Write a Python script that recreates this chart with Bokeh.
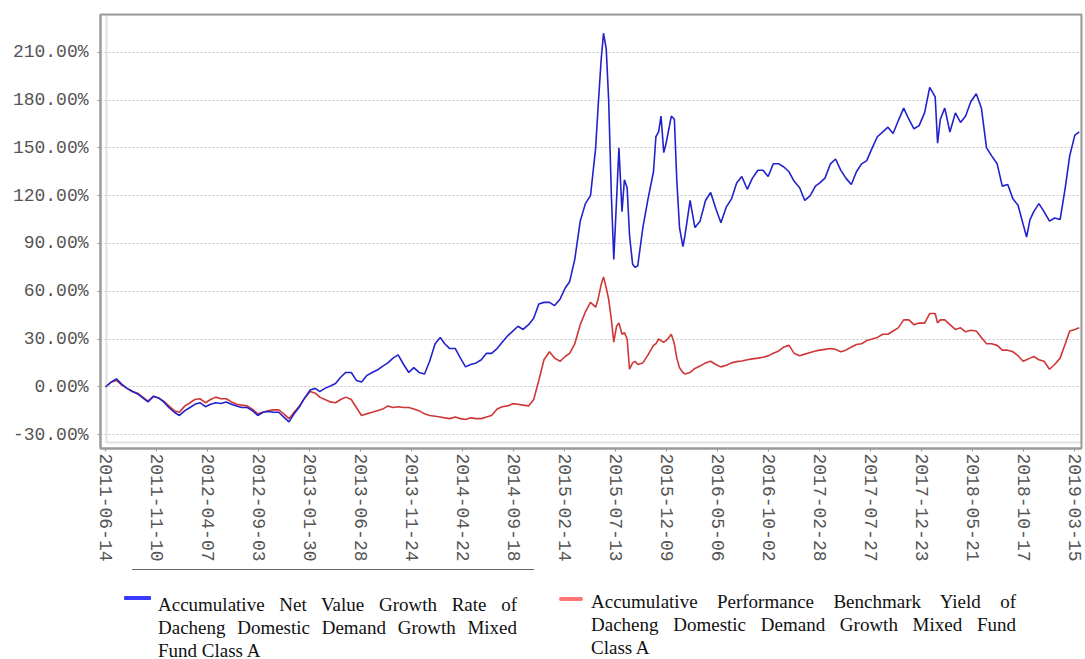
import pandas as pd
from bokeh.plotting import figure
from bokeh.models import (Range1d, FixedTicker, DatetimeTickFormatter,
                          PrintfTickFormatter, BoxAnnotation, Div)
from bokeh.layouts import column
from bokeh.embed import file_html
from bokeh.resources import INLINE

# ---------------- data ----------------
dates = [
    "2011-06-14", "2011-07-01", "2011-07-16", "2011-08-01", "2011-08-16", "2011-09-01", "2011-09-16",
    "2011-10-01", "2011-10-16", "2011-11-01", "2011-11-16", "2011-12-01", "2011-12-16",
    "2012-01-01", "2012-01-16", "2012-02-01", "2012-02-16", "2012-03-01", "2012-03-16",
    "2012-04-01", "2012-04-16", "2012-05-01", "2012-05-16", "2012-06-01", "2012-06-16",
    "2012-07-01", "2012-07-16", "2012-08-01", "2012-08-16", "2012-09-01", "2012-09-16",
    "2012-10-01", "2012-10-16", "2012-11-01", "2012-11-16", "2012-12-01", "2012-12-16",
    "2013-01-01", "2013-01-16", "2013-02-01", "2013-02-16", "2013-03-01", "2013-03-16",
    "2013-04-01", "2013-04-16", "2013-05-01", "2013-05-16", "2013-06-01", "2013-06-16",
    "2013-07-01", "2013-07-16", "2013-08-01", "2013-08-16", "2013-09-01", "2013-09-16",
    "2013-10-01", "2013-10-16", "2013-11-01", "2013-11-16", "2013-12-01", "2013-12-16",
    "2014-01-01", "2014-01-16", "2014-02-01", "2014-02-16", "2014-03-01", "2014-03-16",
    "2014-04-01", "2014-04-16", "2014-05-01", "2014-05-16", "2014-06-01", "2014-06-16",
    "2014-07-01", "2014-07-16", "2014-08-01", "2014-08-16", "2014-09-01", "2014-09-16",
    "2014-10-01", "2014-10-16", "2014-11-01", "2014-11-16", "2014-12-01", "2014-12-16",
    "2015-01-01", "2015-01-16", "2015-02-01", "2015-02-16", "2015-03-01", "2015-03-16",
    "2015-04-01", "2015-04-16", "2015-05-01", "2015-05-16", "2015-05-23", "2015-06-01",
    "2015-06-08", "2015-06-16", "2015-06-23", "2015-07-01", "2015-07-08", "2015-07-16",
    "2015-07-23", "2015-08-01", "2015-08-08", "2015-08-16", "2015-08-23", "2015-09-01",
    "2015-09-08", "2015-09-16", "2015-10-01", "2015-10-16", "2015-11-01", "2015-11-08",
    "2015-11-16", "2015-11-23", "2015-12-01", "2015-12-08", "2015-12-16", "2015-12-23",
    "2016-01-01", "2016-01-08", "2016-01-16", "2016-01-26", "2016-02-01", "2016-02-16",
    "2016-03-01", "2016-03-16", "2016-04-01", "2016-04-16", "2016-05-01", "2016-05-16",
    "2016-06-01", "2016-06-16", "2016-07-01", "2016-07-16", "2016-08-01", "2016-08-16",
    "2016-09-01", "2016-09-16", "2016-10-01", "2016-10-16", "2016-11-01", "2016-11-16",
    "2016-12-01", "2016-12-16",
    "2017-01-01", "2017-01-16", "2017-02-01", "2017-02-16", "2017-03-01", "2017-03-16",
    "2017-04-01", "2017-04-16", "2017-05-01", "2017-05-16", "2017-06-01", "2017-06-16",
    "2017-07-01", "2017-07-16", "2017-08-01", "2017-08-16", "2017-09-01", "2017-09-16",
    "2017-10-01", "2017-10-16", "2017-11-01", "2017-11-16", "2017-12-01", "2017-12-16",
    "2018-01-01", "2018-01-16", "2018-02-01", "2018-02-08", "2018-02-16", "2018-03-01",
    "2018-03-16", "2018-04-01", "2018-04-16", "2018-05-01", "2018-05-16", "2018-06-01",
    "2018-06-16", "2018-07-01", "2018-07-16", "2018-08-01", "2018-08-16", "2018-09-01",
    "2018-09-16", "2018-10-01", "2018-10-16", "2018-10-26", "2018-11-05", "2018-11-16",
    "2018-12-01", "2018-12-16", "2019-01-01", "2019-01-16", "2019-02-01", "2019-02-16",
    "2019-03-01", "2019-03-16", "2019-03-29",
]

fund_growth = [
    0, 3, 5, 1.5, -1, -3, -4.5,
    -7, -9.5, -6, -7, -9.5, -13,
    -16, -18, -15, -13, -11, -10,
    -12.5, -11, -10, -10.5, -9.5, -11,
    -12, -13, -13, -15, -18, -16,
    -15.5, -16, -16, -19, -22, -17,
    -12.5, -7, -2, -1, -3, -1,
    0.5, 2, 6, 9, 9, 4,
    3, 7, 9, 10.5, 13, 15,
    18, 20, 14, 9, 12, 9,
    8, 16, 27, 31, 27, 24,
    24, 18, 12.5, 14, 15, 17,
    21, 21, 24, 28, 32, 35,
    38, 36, 39, 43, 52, 53,
    53, 51, 55, 62, 66, 80,
    104, 115, 120, 150, 175, 205,
    222, 212, 180, 120, 80, 117,
    150, 110, 130, 125, 95, 77,
    75, 76, 100, 118, 135, 157,
    160, 170, 147, 153, 162, 170,
    168, 130, 100, 88, 95, 117,
    100, 104, 117, 122, 112, 103,
    113, 118, 128, 132, 124, 131,
    136, 136, 132, 140, 140, 138,
    135, 129,
    125, 117, 120, 126, 128, 131,
    140, 143, 136, 131, 127, 135,
    140, 142, 150, 157, 160, 163,
    159, 167, 175, 168, 162, 164,
    172, 188, 182, 153, 168, 175,
    160, 172, 166, 170, 179, 184,
    175, 150, 145, 140, 126, 127,
    118, 114, 102, 94, 105, 110,
    115, 110, 104, 106, 105, 125,
    145, 158, 160,
]

benchmark_yield = [
    0, 3, 4, 1, -1, -3, -4,
    -6.5, -9, -6, -7, -9, -12,
    -15, -16, -12, -10, -8, -7.5,
    -10, -8, -6.5, -7.5, -7.5, -9.5,
    -11, -11.5, -12, -14, -17, -16,
    -15, -14.5, -14.5, -17, -20, -16,
    -12, -7, -3, -4, -6.5, -8,
    -9.5, -10, -8, -6.5, -8, -13,
    -18, -17, -16, -15, -14, -12,
    -13, -12.5, -13, -13, -14, -15,
    -17, -18, -18.5, -19, -19.5, -20,
    -19, -20, -20.5, -19.5, -20, -20,
    -19, -18, -14, -12.5, -12, -10.6,
    -11, -11.5, -12, -8, 4, 17,
    22, 18, 16, 19, 21, 27,
    39, 47, 53, 50, 55, 64,
    69, 62, 55, 42, 28, 38,
    40, 33, 34, 30, 11, 15,
    16, 14, 15, 20, 26, 27,
    30, 29, 28, 29, 31, 33,
    27, 18, 12, 9, 8, 9,
    11.5, 13, 15, 16, 14, 12.5,
    13.5, 15, 15.8, 16.2, 17, 17.5,
    18, 18.5, 19.4, 21, 22.5, 25,
    26, 21,
    19.5, 20.5, 21.5, 22.5, 23, 23.5,
    24, 23.5, 22, 23, 25, 26.5,
    27, 29, 30, 31, 33, 33,
    35, 37, 42, 42, 39, 40,
    40, 46, 46, 40, 42, 42,
    39, 36, 37, 34.5, 35.5, 35,
    31, 27, 27, 26, 23, 23,
    22, 19.5, 16, 17, 18, 19,
    17, 16, 11, 14, 18, 27,
    35, 36, 37,
]

x_tick_labels = [
    "2011-06-14", "2011-11-10", "2012-04-07", "2012-09-03", "2013-01-30",
    "2013-06-28", "2013-11-24", "2014-04-22", "2014-09-18", "2015-02-14",
    "2015-07-13", "2015-12-09", "2016-05-06", "2016-10-02", "2017-02-28",
    "2017-07-27", "2017-12-23", "2018-05-21", "2018-10-17", "2019-03-15",
]
y_ticks = [-30, 0, 30, 60, 90, 120, 150, 180, 210]

legend_fund_lines = ["Accumulative Net Value Growth Rate of",
                     "Dacheng Domestic Demand Growth Mixed",
                     "Fund Class A"]
legend_bench_lines = ["Accumulative Performance Benchmark Yield of",
                      "Dacheng Domestic Demand Growth Mixed Fund",
                      "Class A"]

FUND_COLOR = "#2222cc"
BENCH_COLOR = "#cf3636"
AXIS_GRAY = "#9a9a9a"
LABEL_GRAY = "#555555"

# ---------------- figure ----------------
x = pd.to_datetime(dates)
fig_w, fig_h = 1083, 564
b_left, b_right, b_top, b_bottom = 100, 2, 14, 114
frame_w = fig_w - b_left - b_right
frame_h = fig_h - b_top - b_bottom

days_per_px = 149 / 51.0
x_start = pd.Timestamp("2011-06-14") - pd.Timedelta(days=5 * days_per_px)
x_end = x_start + pd.Timedelta(days=frame_w * days_per_px)
y_start, y_end = -38.75, 233.75

p = figure(width=fig_w, height=fig_h, output_backend="svg", toolbar_location=None,
           x_axis_type="datetime",
           x_range=Range1d(x_start, x_end), y_range=Range1d(y_start, y_end),
           min_border_left=b_left, min_border_right=b_right,
           min_border_top=b_top, min_border_bottom=b_bottom,
           background_fill_color="white", border_fill_color="white")

p.outline_line_color = AXIS_GRAY
p.outline_line_width = 2

# inner border box (6px inside the outer left/bottom edges)
ms_per_px = (x_end - x_start).total_seconds() * 1000 / frame_w
val_per_px = (y_end - y_start) / frame_h
inner = BoxAnnotation(left=x_start.value / 1e6 + 6 * ms_per_px,
                      bottom=y_start + 6 * val_per_px,
                      fill_color=None, fill_alpha=0,
                      line_color=AXIS_GRAY, line_width=2)
p.add_layout(inner)

p.line(x, benchmark_yield, line_color=BENCH_COLOR, line_width=1.6)
p.line(x, fund_growth, line_color=FUND_COLOR, line_width=1.6)

# grid
p.xgrid.grid_line_color = None
p.ygrid.ticker = FixedTicker(ticks=y_ticks)
p.ygrid.grid_line_color = "#c8c8c8"
p.ygrid.grid_line_dash = "2 2"
p.ygrid.grid_line_width = 1

# y axis
p.yaxis.ticker = FixedTicker(ticks=y_ticks)
p.yaxis.formatter = PrintfTickFormatter(format="%.2f%%")
p.yaxis.axis_line_color = AXIS_GRAY
p.yaxis.axis_line_width = 2
p.yaxis.major_tick_line_color = AXIS_GRAY
p.yaxis.major_tick_out = 3
p.yaxis.major_tick_in = 0
p.yaxis.minor_tick_line_color = None
p.yaxis.major_label_standoff = 9
p.yaxis.major_label_text_font = "Liberation Mono"
p.yaxis.major_label_text_font_size = "18px"
p.yaxis.major_label_text_color = LABEL_GRAY

# x axis
tick_ms = [pd.Timestamp(s).value // 10**6 for s in x_tick_labels]
p.xaxis.ticker = FixedTicker(ticks=tick_ms)
fmt = "%Y-%m-%d"
p.xaxis.formatter = DatetimeTickFormatter(
    milliseconds=fmt, seconds=fmt, minsec=fmt, minutes=fmt, hourmin=fmt,
    hours=fmt, days=fmt, months=fmt, years=fmt)
p.xaxis.major_label_orientation = "vertical"
p.xaxis.axis_line_color = AXIS_GRAY
p.xaxis.axis_line_width = 2
p.xaxis.major_tick_line_color = AXIS_GRAY
p.xaxis.major_tick_out = 3
p.xaxis.major_tick_in = 0
p.xaxis.minor_tick_line_color = None
p.xaxis.major_label_standoff = 2
p.xaxis.major_label_text_font = "Liberation Mono"
p.xaxis.major_label_text_font_size = "18px"
p.xaxis.major_label_text_color = LABEL_GRAY

# ---------------- legend (justified text block below the chart) ----------------
def block(lines, left, width, top):
    rows = []
    for i, ln in enumerate(lines):
        last = i == len(lines) - 1
        align = "left" if last else "justify"
        rows.append(f'<div style="white-space:nowrap;text-align:justify;'
                    f'text-align-last:{align};width:{width}px;">{ln}</div>')
    return (f'<div style="position:absolute;left:{left}px;top:{top}px;'
            f'width:{width}px;line-height:23px;">' + "".join(rows) + "</div>")

div_h = 95
html = (
    f'<div style="position:relative;width:{fig_w - 10}px;height:{div_h}px;overflow:hidden;'
    "font-family:'Liberation Serif','Times New Roman',serif;font-size:19px;color:#111;\">"
    '<div style="position:absolute;left:127px;top:0px;width:402px;height:0;'
    'border-top:1px solid #666;"></div>'
    '<div style="position:absolute;left:119px;top:27px;width:27px;height:4px;'
    'background:#3a3aff;border-radius:1px;"></div>'
    + block(legend_fund_lines, 153, 359, 24) +
    '<div style="position:absolute;left:554px;top:28px;width:24px;height:4px;'
    'background:#ff7474;border-radius:2px;"></div>'
    + block(legend_bench_lines, 586, 425, 21) +
    "</div>"
)
legend_div = Div(text=html, width=fig_w, height=div_h)

layout = column(p, legend_div, spacing=0)
open("out.html", "w").write(file_html(layout, INLINE))
